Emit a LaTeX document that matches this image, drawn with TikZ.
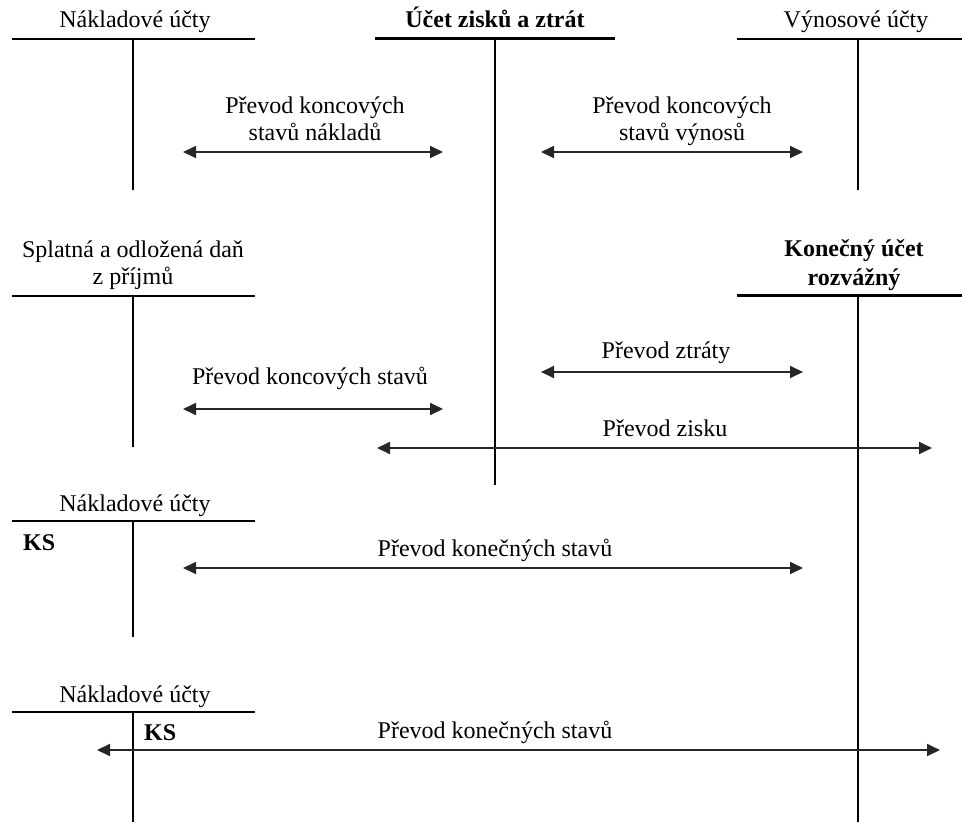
\documentclass[tikz,border=0pt]{standalone}
\usepackage{fontspec}
\setmainfont{Liberation Serif}
\usetikzlibrary{arrows.meta}
\begin{document}
\begin{tikzpicture}[x=1pt,y=-1pt,
  lbl/.style={font=\fontsize{24}{28}\selectfont, anchor=base, inner sep=0pt},
  blbl/.style={font=\fontsize{24}{28}\selectfont\bfseries, anchor=base, inner sep=0pt},
  tline/.style={line width=1.5pt},
  tkline/.style={line width=3pt},
  dbl/.style={line width=1.8pt, draw=black!85, {Triangle[length=13pt,width=12pt]}-{Triangle[length=13pt,width=12pt]}}
]
\useasboundingbox (0,0) rectangle (962,822);

% --- Nákladové účty (top)
\node[lbl] (t1) at (135,27) {Nákladové účty};
\coordinate (t1L) at (12,39); \coordinate (t1R) at (255,39);
\coordinate (t1T) at (133,39); \coordinate (t1B) at (133,190);
\draw[tline] (t1L) -- (t1R); \draw[tline] (t1T) -- (t1B);

% --- Účet zisků a ztrát
\node[blbl] (t2) at (495,27) {Účet zisků a ztrát};
\coordinate (t2L) at (375,38); \coordinate (t2R) at (615,38);
\coordinate (t2T) at (495,38); \coordinate (t2B) at (495,485);
\draw[tkline] (t2L) -- (t2R); \draw[line width=2.5pt] (t2T) -- (t2B);

% --- Výnosové účty
\node[lbl] (t3) at (856,27) {Výnosové účty};
\coordinate (t3L) at (737,39); \coordinate (t3R) at (962,39);
\coordinate (t3T) at (858,39); \coordinate (t3B) at (858,190);
\draw[tline] (t3L) -- (t3R); \draw[tline] (t3T) -- (t3B);

% --- row 1 arrows
\node[lbl] (a1a) at (315,113) {Převod koncových};
\node[lbl] (a1b) at (315,140) {stavů nákladů};
\coordinate (a1L) at (183,152); \coordinate (a1R) at (443,152);
\draw[dbl] (a1L) -- (a1R);

\node[lbl] (a2a) at (682,113) {Převod koncových};
\node[lbl] (a2b) at (682,140) {stavů výnosů};
\coordinate (a2L) at (541,152); \coordinate (a2R) at (803,152);
\draw[dbl] (a2L) -- (a2R);

% --- Splatná a odložená daň
\node[lbl] (t4a) at (133,257) {Splatná a odložená daň};
\node[lbl] (t4b) at (133,284) {z příjmů};
\coordinate (t4L) at (12,296); \coordinate (t4R) at (255,296);
\coordinate (t4T) at (133,296); \coordinate (t4B) at (133,447);
\draw[tline] (t4L) -- (t4R); \draw[tline] (t4T) -- (t4B);

% --- Konečný účet rozvážný
\node[blbl] (t5a) at (854,256) {Konečný účet};
\node[blbl] (t5b) at (854,285) {rozvážný};
\coordinate (t5L) at (737,295); \coordinate (t5R) at (962,295);
\coordinate (t5T) at (858,295); \coordinate (t5B) at (858,822);
\draw[tkline] (t5L) -- (t5R); \draw[line width=2.5pt] (t5T) -- (t5B);

% --- row 2 arrows
\node[lbl] (a3) at (666,358) {Převod ztráty};
\coordinate (a3L) at (541,372); \coordinate (a3R) at (803,372);
\draw[dbl] (a3L) -- (a3R);

\node[lbl] (a4) at (310,384) {Převod koncových stavů};
\coordinate (a4L) at (183,409); \coordinate (a4R) at (443,409);
\draw[dbl] (a4L) -- (a4R);

\node[lbl] (a5) at (665,436) {Převod zisku};
\coordinate (a5L) at (377,448); \coordinate (a5R) at (932,448);
\draw[dbl] (a5L) -- (a5R);

% --- Nákladové účty (third)
\node[lbl] (t6) at (135,511) {Nákladové účty};
\coordinate (t6L) at (12,521); \coordinate (t6R) at (255,521);
\coordinate (t6T) at (133,521); \coordinate (t6B) at (133,637);
\draw[tline] (t6L) -- (t6R); \draw[tline] (t6T) -- (t6B);
\node[blbl, anchor=base west] (ks1) at (23,550) {KS};

\node[lbl] (a6) at (495,556) {Převod konečných stavů};
\coordinate (a6L) at (183,568); \coordinate (a6R) at (803,568);
\draw[dbl] (a6L) -- (a6R);

% --- Nákladové účty (fourth)
\node[lbl] (t7) at (135,702) {Nákladové účty};
\coordinate (t7L) at (12,712); \coordinate (t7R) at (255,712);
\coordinate (t7T) at (133,712); \coordinate (t7B) at (133,822);
\draw[tline] (t7L) -- (t7R); \draw[tline] (t7T) -- (t7B);
\node[blbl, anchor=base west] (ks2) at (144,740) {KS};

\node[lbl] (a7) at (495,738) {Převod konečných stavů};
\coordinate (a7L) at (97,750); \coordinate (a7R) at (940,750);
\draw[dbl] (a7L) -- (a7R);

\end{tikzpicture}
\end{document}
